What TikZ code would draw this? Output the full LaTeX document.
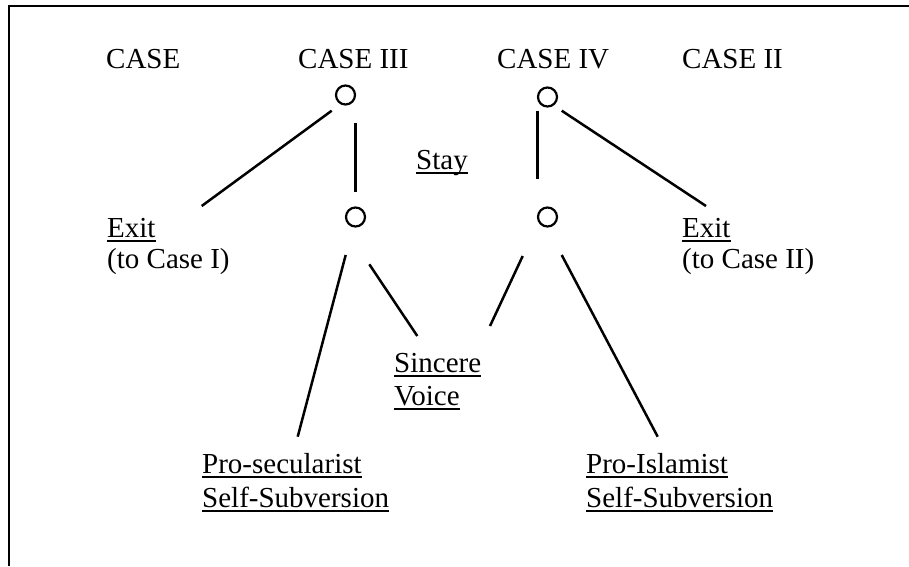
\documentclass[tikz,border=0pt]{standalone}
\usepackage{fontspec}
\setmainfont{Liberation Serif}
\usetikzlibrary{positioning}
\newcommand{\udl}[1]{\setbox0\hbox{#1}\rlap{\rule[-5pt]{\wd0}{2pt}}\box0}

\begin{document}
\begin{tikzpicture}[x=1pt,y=-1pt,
    every node/.style={font=\fontsize{29}{34}\selectfont, inner sep=0pt},
    lbl/.style={anchor=base west},
    choice/.style={circle, draw, line width=2.2pt, minimum size=19pt},
    branch/.style={line width=2.5pt}]
    \useasboundingbox (0,0) rectangle (909,566);
    % Frame, cut off at right and bottom
    \draw[line width=2pt] (9,566) -- (9,6) -- (909,6);

    % Case headings
    \node[lbl] (caseA)   at (106,68) {CASE};
    \node[lbl] (caseIII) at (298,68) {CASE III};
    \node[lbl] (caseIV)  at (497,68) {CASE IV};
    \node[lbl] (caseII)  at (682,68) {CASE II};

    % Choice points
    \node[choice] (c3)  at (345.5,95) {};
    \node[choice] (c3s) at (355.5,217) {};
    \node[choice] (c4)  at (547.5,97) {};
    \node[choice] (c4s) at (547.5,217) {};

    % Outcomes
    \node[lbl] (stay)   at (416,169) {\udl{Stay}};
    \node[lbl] (exitL)  at (107,237) {\udl{Exit}};
    \node[lbl] (exitLb) at (107,268) {(to Case I)};
    \node[lbl] (exitR)  at (682,237) {\udl{Exit}};
    \node[lbl] (exitRb) at (682,268) {(to Case II)};
    \node[lbl] (voice)  at (394,372) {\udl{Sincere}};
    \node[lbl] (voiceb) at (394,405) {\udl{Voice}};
    \node[lbl] (secul)  at (202,473) {\udl{Pro-secularist}};
    \node[lbl] (seculb) at (202,507) {\udl{Self-Subversion}};
    \node[lbl] (islam)  at (586,473) {\udl{Pro-Islamist}};
    \node[lbl] (islamb) at (586,507) {\udl{Self-Subversion}};

    % Branch ends
    \coordinate (c3exit)  at (331.7,110.7);
    \coordinate (exitLe)  at (201.7,206);
    \coordinate (c3stay)  at (355.7,123.3);
    \coordinate (stayLe)  at (355.7,191.7);
    \coordinate (c4stay)  at (537.7,110.7);
    \coordinate (stayRe)  at (537.7,179.3);
    \coordinate (c4exit)  at (561.7,110.7);
    \coordinate (exitRe)  at (706,206);
    \coordinate (c3sec)   at (345.7,255);
    \coordinate (secule)  at (297.7,436.7);
    \coordinate (c3voice) at (369.3,264.3);
    \coordinate (voiceLe) at (417.3,336);
    \coordinate (c4voice) at (522.7,256);
    \coordinate (voiceRe) at (490,326);
    \coordinate (c4isl)   at (561.7,255);
    \coordinate (islame)  at (657.7,436.7);

    \draw[branch] (c3exit) -- (exitLe);
    \draw[branch] (c3stay) -- (stayLe);
    \draw[branch] (c4stay) -- (stayRe);
    \draw[branch] (c4exit) -- (exitRe);
    \draw[branch] (c3sec) -- (secule);
    \draw[branch] (c3voice) -- (voiceLe);
    \draw[branch] (c4voice) -- (voiceRe);
    \draw[branch] (c4isl) -- (islame);
\end{tikzpicture}
\end{document}
